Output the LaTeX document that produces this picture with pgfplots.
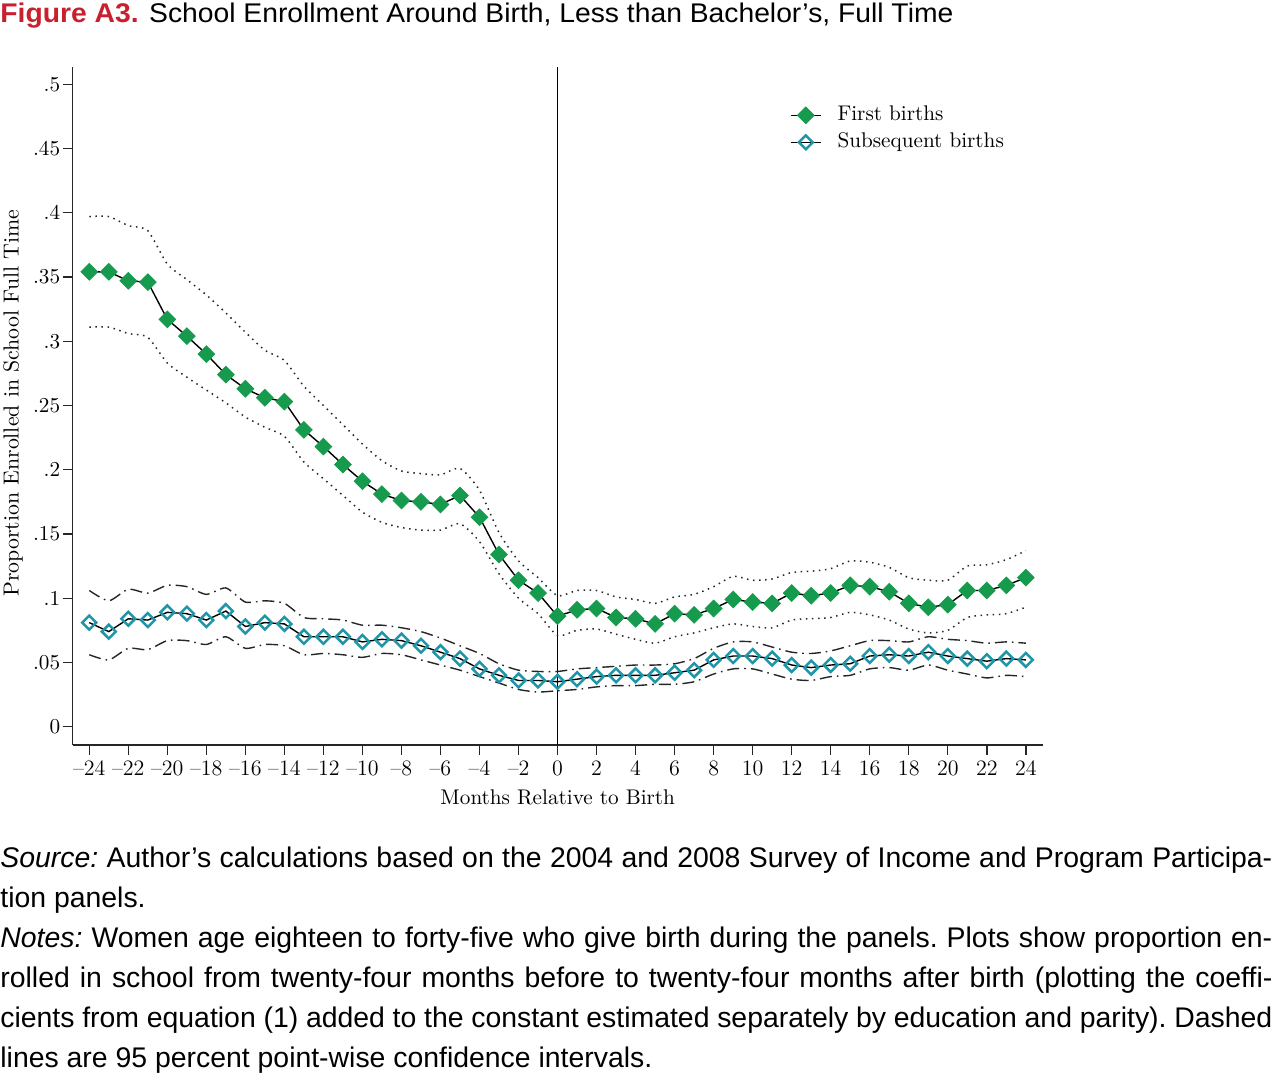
\documentclass[border=0pt]{standalone}
\usepackage{fontspec}
\usepackage{graphicx}
\usepackage{pgfplots}
\pgfplotsset{compat=1.18}
\usepackage{pgfplotstable}
\newfontfamily\sansf{Liberation Sans}
\definecolor{fgreen}{RGB}{22,155,78}
\definecolor{fteal}{RGB}{30,150,168}
\definecolor{fred}{RGB}{200,32,46}
\newcommand\notesfnt{\sansf\fontsize{14.2}{20}\selectfont\frenchspacing}
\newcommand\plotfnt{\fontsize{10.6}{12}\selectfont}

\pgfplotstableread{
m   f      flo    fhi    s      slo    shi
-24 0.354  0.311  0.397  0.081  0.056  0.106
-23 0.354  0.311  0.397  0.074  0.052  0.098
-22 0.347  0.306  0.390  0.084  0.061  0.107
-21 0.346  0.303  0.386  0.083  0.060  0.104
-20 0.317  0.283  0.360  0.089  0.067  0.110
-19 0.304  0.272  0.348  0.088  0.067  0.109
-18 0.290  0.262  0.336  0.083  0.064  0.103
-17 0.274  0.252  0.322  0.090  0.070  0.108
-16 0.263  0.241  0.307  0.078  0.061  0.097
-15 0.256  0.233  0.293  0.081  0.064  0.098
-14 0.253  0.226  0.285  0.080  0.063  0.096
-13 0.231  0.206  0.265  0.070  0.056  0.085
-12 0.218  0.193  0.250  0.070  0.057  0.084
-11 0.204  0.180  0.235  0.070  0.056  0.083
-10 0.191  0.167  0.220  0.066  0.054  0.079
-9  0.181  0.159  0.207  0.068  0.057  0.079
-8  0.176  0.155  0.199  0.067  0.056  0.077
-7  0.175  0.153  0.197  0.063  0.052  0.074
-6  0.173  0.153  0.196  0.058  0.048  0.069
-5  0.180  0.158  0.201  0.053  0.044  0.063
-4  0.163  0.144  0.184  0.045  0.039  0.057
-3  0.134  0.119  0.151  0.040  0.034  0.049
-2  0.114  0.100  0.129  0.036  0.029  0.044
-1  0.104  0.088  0.116  0.036  0.027  0.043
0   0.086  0.071  0.102  0.035  0.028  0.043
1   0.091  0.075  0.106  0.037  0.029  0.045
2   0.092  0.076  0.106  0.039  0.031  0.046
3   0.085  0.072  0.101  0.040  0.032  0.047
4   0.084  0.068  0.099  0.040  0.032  0.048
5   0.080  0.065  0.096  0.040  0.033  0.048
6   0.088  0.070  0.101  0.042  0.033  0.049
7   0.087  0.073  0.103  0.044  0.035  0.053
8   0.092  0.077  0.109  0.052  0.041  0.061
9   0.099  0.080  0.117  0.055  0.045  0.066
10  0.097  0.078  0.114  0.055  0.045  0.066
11  0.096  0.077  0.115  0.053  0.041  0.062
12  0.104  0.083  0.120  0.048  0.037  0.058
13  0.102  0.084  0.121  0.046  0.036  0.057
14  0.104  0.085  0.123  0.048  0.039  0.059
15  0.110  0.089  0.129  0.049  0.040  0.063
16  0.109  0.087  0.128  0.055  0.045  0.067
17  0.105  0.083  0.124  0.056  0.046  0.067
18  0.096  0.076  0.116  0.055  0.044  0.066
19  0.093  0.073  0.114  0.058  0.048  0.070
20  0.095  0.075  0.114  0.055  0.044  0.068
21  0.106  0.085  0.125  0.053  0.041  0.067
22  0.106  0.087  0.126  0.051  0.038  0.065
23  0.110  0.088  0.130  0.053  0.040  0.066
24  0.116  0.093  0.137  0.052  0.039  0.065
}\datatable

\begin{document}
\begin{tikzpicture}
\useasboundingbox (0,0) rectangle (640pt,-536pt);
\begin{axis}[
  at={(36.25pt,-372.5pt)}, anchor=south west,
  scale only axis, width=485.25pt, height=339pt,
  xmin=-24.86, xmax=24.88, ymin=-0.01424, ymax=0.5134,
  axis x line*=bottom, axis y line*=left,
  axis line style={black!85, line width=0.75pt},
  xtick={-24,-22,-20,-18,-16,-14,-12,-10,-8,-6,-4,-2,0,2,4,6,8,10,12,14,16,18,20,22,24},
  xticklabels={\textendash24,\textendash22,\textendash20,\textendash18,\textendash16,\textendash14,\textendash12,\textendash10,\textendash8,\textendash6,\textendash4,\textendash2,0,2,4,6,8,10,12,14,16,18,20,22,24},
  ytick={0,0.05,0.1,0.15,0.2,0.25,0.3,0.35,0.4,0.45,0.5},
  yticklabels={0,.05,.1,.15,.2,.25,.3,.35,.4,.45,.5},
  tick align=outside, major tick length=5pt,
  tick style={black!85, line width=0.7pt},
  ticklabel style={font=\plotfnt},
  xticklabel style={font=\fontsize{11}{12}\selectfont, inner ysep=2.5pt},
  yticklabel style={inner xsep=1pt},
  xlabel={Months Relative to Birth},
  xlabel style={font=\plotfnt, at={(axis description cs:0.5,-0.087)}, anchor=base},
  ylabel={Proportion Enrolled in School Full Time},
  ylabel style={font=\fontsize{10.9}{12}\selectfont, at={(axis description cs:-0.0613,0.504)}, anchor=center},
  legend style={at={(rel axis cs:0.739,0.947)}, anchor=north west, draw=none, fill=none,
    font=\plotfnt, row sep=1.5pt, inner sep=0pt,
    nodes={inner sep=1pt, text height=7.5pt, text depth=2.5pt},
    /tikz/every odd column/.append style={column sep=7pt}},
  legend cell align=left,
  legend image code/.code={\draw[mark repeat=2,mark phase=2,#1] plot coordinates {(0pt,0pt) (7.5pt,0pt) (15pt,0pt)};},
]
\addplot[forget plot, black, line width=0.6pt] coordinates {(0,-0.01424) (0,0.5134)};
\addplot[forget plot, black!85, line width=0.75pt, dash pattern=on 0.75pt off 2.3pt, smooth, tension=0.4] table[x=m,y=flo] {\datatable};
\addplot[forget plot, black!85, line width=0.75pt, dash pattern=on 0.75pt off 2.3pt, smooth, tension=0.4] table[x=m,y=fhi] {\datatable};
\addplot[forget plot, black!85, line width=0.7pt, dash pattern=on 6pt off 2.5pt on 0.8pt off 2.5pt, smooth, tension=0.4] table[x=m,y=slo] {\datatable};
\addplot[forget plot, black!85, line width=0.7pt, dash pattern=on 6pt off 2.5pt on 0.8pt off 2.5pt, smooth, tension=0.4] table[x=m,y=shi] {\datatable};
\addplot[black, line width=0.7pt, mark=square*, mark size=2.95pt,
  mark options={solid, rotate=45, fill=fgreen, draw=fgreen, line width=0.4pt}]
  table[x=m,y=f] {\datatable};
\addlegendentry{First births}
\addplot[black, line width=0.7pt, mark=square, mark size=2.45pt,
  mark options={solid, rotate=45, draw=fteal, line width=1.25pt}]
  table[x=m,y=s] {\datatable};
\addlegendentry{Subsequent births}
\end{axis}
\node[anchor=base west, inner sep=0pt] at (0,-11pt) {\resizebox{476.5pt}{\height}{\sansf\fontsize{13.5}{16}\selectfont\textcolor{fred}{\bfseries Figure A3.} School Enrollment Around Birth, Less than Bachelor’s, Full Time}};
\node[anchor=base west, inner sep=0pt] at (0,-433.5pt) {\notesfnt\makebox[636pt][s]{\textit{Source:} Author’s calculations based on the 2004 and 2008 Survey of Income and Program Participa-}};
\node[anchor=base west, inner sep=0pt] at (0,-453.5pt) {\notesfnt tion panels.};
\node[anchor=base west, inner sep=0pt] at (0,-473.5pt) {\notesfnt\makebox[636pt][s]{\textit{Notes:} Women age eighteen to forty-five who give birth during the panels. Plots show proportion en-}};
\node[anchor=base west, inner sep=0pt] at (0,-493.5pt) {\notesfnt\makebox[636pt][s]{rolled in school from twenty-four months before to twenty-four months after birth (plotting the coeffi-}};
\node[anchor=base west, inner sep=0pt] at (0,-513.5pt) {\notesfnt\makebox[636pt][s]{cients from equation (1) added to the constant estimated separately by education and parity). Dashed}};
\node[anchor=base west, inner sep=0pt] at (0,-533.5pt) {\notesfnt lines are 95 percent point-wise confidence intervals.};
\end{tikzpicture}
\end{document}
